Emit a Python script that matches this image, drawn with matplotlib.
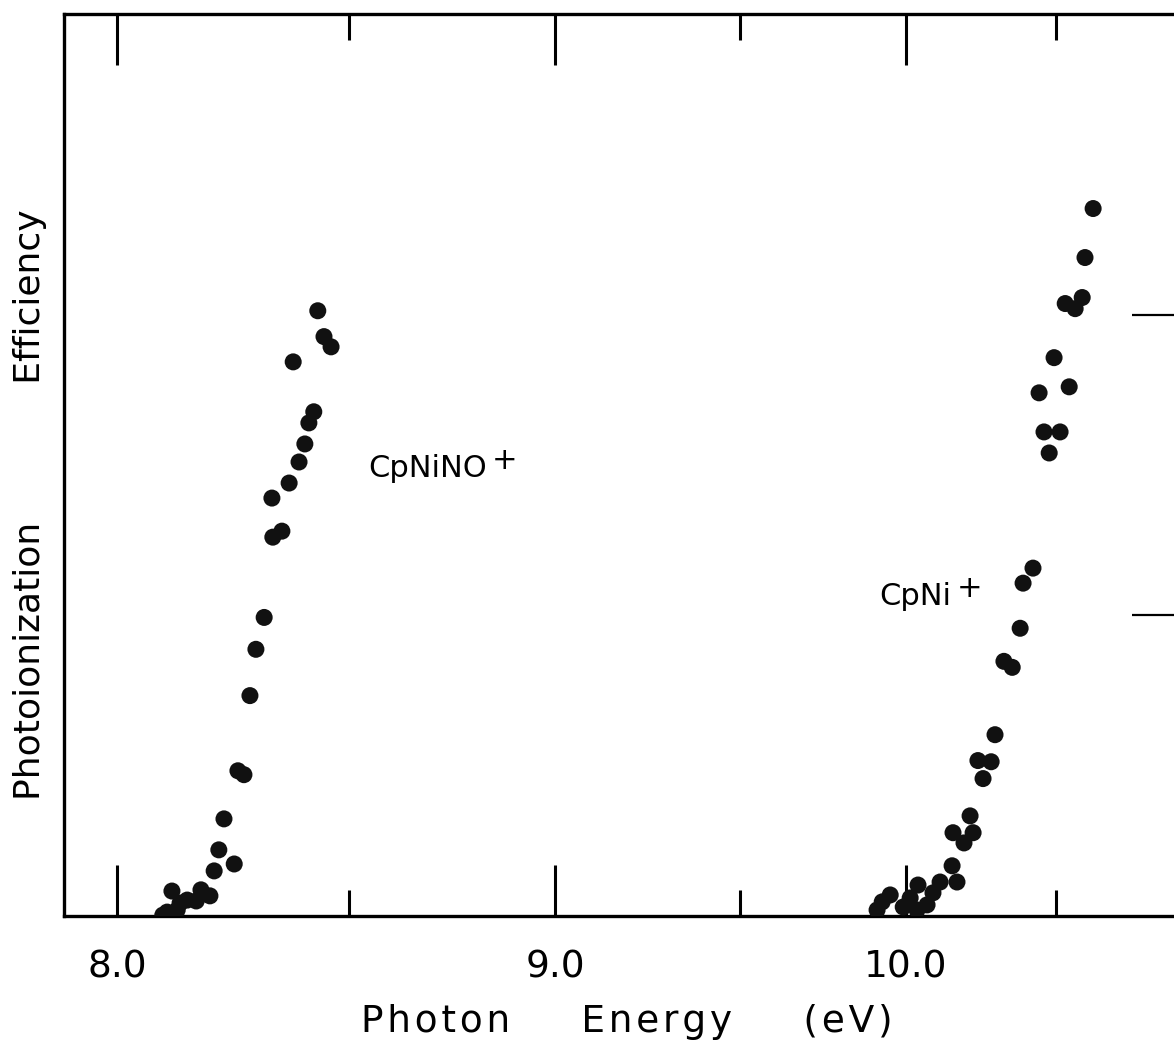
import numpy as np
import matplotlib
matplotlib.use("Agg")
import matplotlib.pyplot as plt

# Photon energy (eV) and photoionization efficiency (arb. units)
cpninop_e = [8.429, 8.443, 8.459, 8.374, 8.420, 8.409, 8.400, 8.387, 8.365, 8.327,
             8.349, 8.329, 8.310, 8.292, 8.279, 8.253, 8.266, 8.223, 8.212, 8.245,
             8.202, 8.113, 8.174, 8.193, 8.145, 8.164, 8.130, 8.103, 8.124, 8.094]
cpninop_y = [2.013, 1.927, 1.893, 1.843, 1.677, 1.640, 1.570, 1.510, 1.440, 1.390,
             1.280, 1.260, 0.993, 0.887, 0.733, 0.483, 0.470, 0.323, 0.220, 0.173,
             0.150, 0.083, 0.087, 0.067, 0.053, 0.050, 0.043, 0.013, 0.020, 0.003]

cpnip_e = [10.630, 10.601, 10.591, 10.531, 10.566, 10.492, 10.545, 10.440, 10.457, 10.513,
           10.475, 10.419, 10.385, 10.375, 10.320, 10.348, 10.290, 10.233, 10.277, 10.250,
           10.207, 10.151, 10.217, 10.187, 10.148, 10.164, 10.109, 10.038, 10.086, 9.950,
           9.925, 10.013, 10.067, 9.909, 9.991, 10.035]
cpnip_y = [2.353, 2.190, 2.057, 2.037, 2.020, 1.857, 1.760, 1.740, 1.610, 1.610,
           1.540, 1.157, 1.107, 0.957, 0.847, 0.827, 0.603, 0.517, 0.513, 0.457,
           0.333, 0.277, 0.277, 0.243, 0.167, 0.113, 0.113, 0.103, 0.077, 0.070,
           0.047, 0.060, 0.037, 0.020, 0.030, 0.020]

major_ticks = [8.0, 9.0, 10.0]
minor_ticks = [8.5, 9.5, 10.5]
major_labels = ["8.0", "9.0", "10.0"]
y_ticks = [1, 2]

plt.rcParams['font.family'] = ['DejaVu Sans']

def spaced(word):
    # a little letter spacing, like the lettering on the original
    return "\u200a".join(word)

fig = plt.figure(figsize=(11.74, 10.53), dpi=100)
ax = fig.add_axes([64/1174, 137/1053, 1118/1174, 902/1053])

# axis is linear in wavelength, i.e. in 1/E
ax.set_xscale('function', functions=(lambda e: -1.0/e, lambda v: -1.0/v))

dot = '#111111'
ax.scatter(cpninop_e, cpninop_y, s=150, color=dot, edgecolors='none', zorder=3)
ax.scatter(cpnip_e, cpnip_y, s=150, color=dot, edgecolors='none', zorder=3)

ax.set_xlim(7.894, 10.958)
ax.set_ylim(0, 3.0)

ax.set_xticks(major_ticks)
ax.set_xticklabels(major_labels)
ax.set_xticks(minor_ticks, minor=True)
ax.set_yticks(y_ticks)
ax.set_yticklabels([])

ax.tick_params(axis='x', which='major', direction='in', length=37, width=2.2,
               top=True, bottom=True, labelsize=27, pad=24)
ax.tick_params(axis='x', which='minor', direction='in', length=19, width=2.2,
               top=True, bottom=True)
ax.tick_params(axis='y', which='both', direction='in', length=36, width=1.6,
               left=False, right=True, labelleft=False)

for s in ax.spines.values():
    s.set_linewidth(2.4)

xlab = (" " * 6).join(spaced(w) for w in ["Photon", "Energy", "(eV)"])
ax.set_xlabel(xlab, fontsize=27)
ax.xaxis.set_label_coords(0.503, -0.098)
ax.set_ylabel("Photoionization" + " " * 12 + "Efficiency", fontsize=26)
ax.yaxis.set_label_coords(-0.0152, 0.456)

ax.text(8.544, 1.487, "CpNiNO", fontsize=22, ha='left', va='center')
ax.text(8.840, 1.515, "+", fontsize=22, ha='left', va='center')
ax.text(9.915, 1.063, "CpNi", fontsize=22, ha='left', va='center')
ax.text(10.164, 1.090, "+", fontsize=22, ha='left', va='center')

fig.savefig("out.png", dpi=100)
